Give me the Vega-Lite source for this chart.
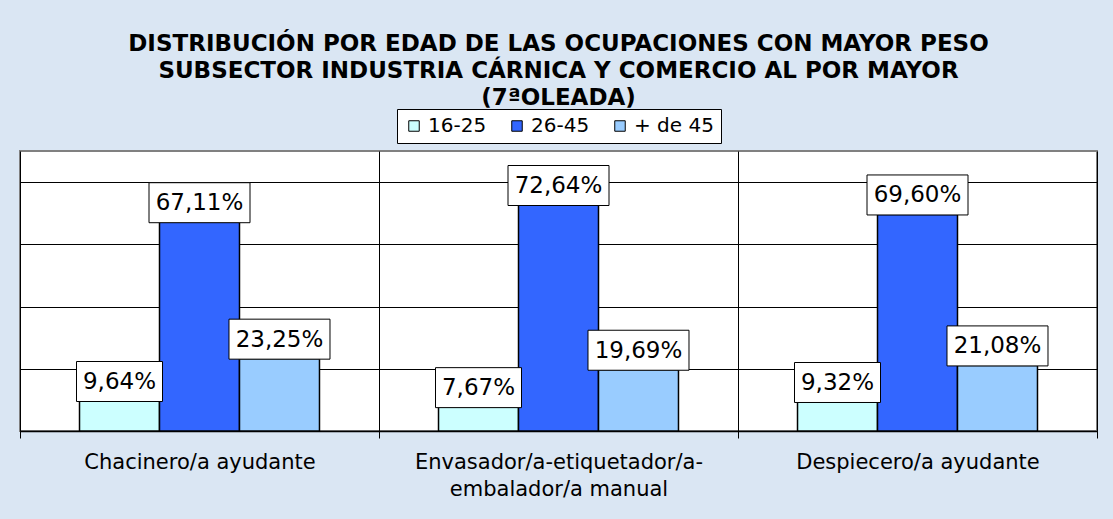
{
  "$schema": "https://vega.github.io/schema/vega-lite/v6.json",
  "autosize": {"type": "none"},
  "width": 1077,
  "height": 280,
  "padding": {"left": 20, "top": 151, "right": 16, "bottom": 88},
  "background": "#DAE6F3",
  "title": {
    "text": ["DISTRIBUCIÓN POR EDAD DE LAS OCUPACIONES CON MAYOR PESO", "SUBSECTOR INDUSTRIA CÁRNICA Y COMERCIO AL POR MAYOR", "(7ªOLEADA)"],
    "anchor": "middle",
    "frame": "group",
    "font": "DejaVu Sans",
    "fontSize": 23,
    "fontWeight": "bold",
    "color": "#000000",
    "lineHeight": 27,
    "baseline": "alphabetic",
    "offset": -19
  },
  "data": {
    "values": [
      {"ocupacion": "Chacinero/a ayudante", "edad": "16-25", "value": 0.0964},
      {"ocupacion": "Chacinero/a ayudante", "edad": "26-45", "value": 0.6711},
      {"ocupacion": "Chacinero/a ayudante", "edad": "+ de 45", "value": 0.2325},
      {"ocupacion": "Envasador/a-etiquetador/a-embalador/a manual", "edad": "16-25", "value": 0.0767},
      {"ocupacion": "Envasador/a-etiquetador/a-embalador/a manual", "edad": "26-45", "value": 0.7264},
      {"ocupacion": "Envasador/a-etiquetador/a-embalador/a manual", "edad": "+ de 45", "value": 0.1969},
      {"ocupacion": "Despiecero/a ayudante", "edad": "16-25", "value": 0.0932},
      {"ocupacion": "Despiecero/a ayudante", "edad": "26-45", "value": 0.6960},
      {"ocupacion": "Despiecero/a ayudante", "edad": "+ de 45", "value": 0.2108}
    ]
  },
  "encoding": {
    "x": {
      "field": "ocupacion",
      "type": "nominal",
      "sort": null,
      "scale": {"paddingInner": 0, "paddingOuter": 0},
      "axis": {
        "title": null,
        "labelAngle": 0,
        "tickBand": "extent",
        "grid": true,
        "gridColor": "#000000",
        "gridWidth": 1,
        "ticks": true,
        "tickColor": "#000000",
        "tickSize": 7,
        "domainColor": "#000000",
        "domainWidth": 1.5,
        "labelFont": "DejaVu Sans",
        "labelFontSize": 21,
        "labelColor": "#000000",
        "labelPadding": 13,
        "labelLimit": 0,
        "labelLineHeight": 27,
        "labelExpr": "datum.label == 'Envasador/a-etiquetador/a-embalador/a manual' ? ['Envasador/a-etiquetador/a-', 'embalador/a manual'] : datum.label"
      }
    },
    "xOffset": {
      "field": "edad",
      "type": "nominal",
      "sort": ["16-25", "26-45", "+ de 45"],
      "scale": {"paddingInner": 0, "paddingOuter": 0.744}
    },
    "y": {
      "field": "value",
      "type": "quantitative",
      "scale": {"domain": [0, 0.9], "nice": false, "zero": true},
      "axis": {
        "title": null,
        "labels": false,
        "ticks": false,
        "domain": false,
        "grid": true,
        "gridColor": "#000000",
        "gridWidth": 1,
        "values": [0, 0.2, 0.4, 0.6, 0.8]
      }
    }
  },
  "layer": [
    {
      "mark": {"type": "bar", "stroke": "#000000", "strokeWidth": 1.5, "opacity": 1},
      "encoding": {
        "color": {
          "field": "edad",
          "type": "nominal",
          "scale": {"domain": ["16-25", "26-45", "+ de 45"], "range": ["#CCFFFF", "#3366FF", "#99CCFF"]},
          "legend": {
            "orient": "none",
            "legendX": 377,
            "legendY": -42,
            "direction": "horizontal",
            "columns": 3,
            "title": null,
            "fillColor": "#FFFFFF",
            "strokeColor": "#000000",
            "padding": 7,
            "symbolType": "square",
            "symbolSize": 110,
            "symbolStrokeColor": "#000000",
            "symbolStrokeWidth": 1,
            "symbolOpacity": 1,
            "labelFont": "DejaVu Sans",
            "labelFontSize": 20,
            "labelColor": "#000000",
            "columnPadding": 20,
            "labelOffset": 4
          }
        }
      }
    },
    {
      "mark": {"type": "point", "filled": true, "fill": "#FFFFFF", "stroke": "#000000", "strokeWidth": 1, "opacity": 1, "fillOpacity": 1, "strokeOpacity": 1, "yOffset": -19.5},
      "encoding": {
        "shape": {"condition": {"test": "datum.value < 0.1", "value": "M-1,-0.465H1V0.465H-1Z"}, "value": "M-1,-0.396H1V0.396H-1Z"},
        "size": {"condition": {"test": "datum.value < 0.1", "value": 7396}, "value": 10201}
      }
    },
    {
      "mark": {"type": "text", "font": "DejaVu Sans", "fontSize": 23, "color": "#000000", "baseline": "middle", "align": "center", "yOffset": -19},
      "encoding": {
        "text": {"field": "value", "type": "quantitative", "format": ".2%"}
      }
    }
  ],
  "config": {
    "locale": {"number": {"decimal": ",", "thousands": ".", "grouping": [3], "currency": ["", " €"]}},
    "view": {"fill": "#FFFFFF", "stroke": "#808080", "strokeWidth": 2}
  }
}
